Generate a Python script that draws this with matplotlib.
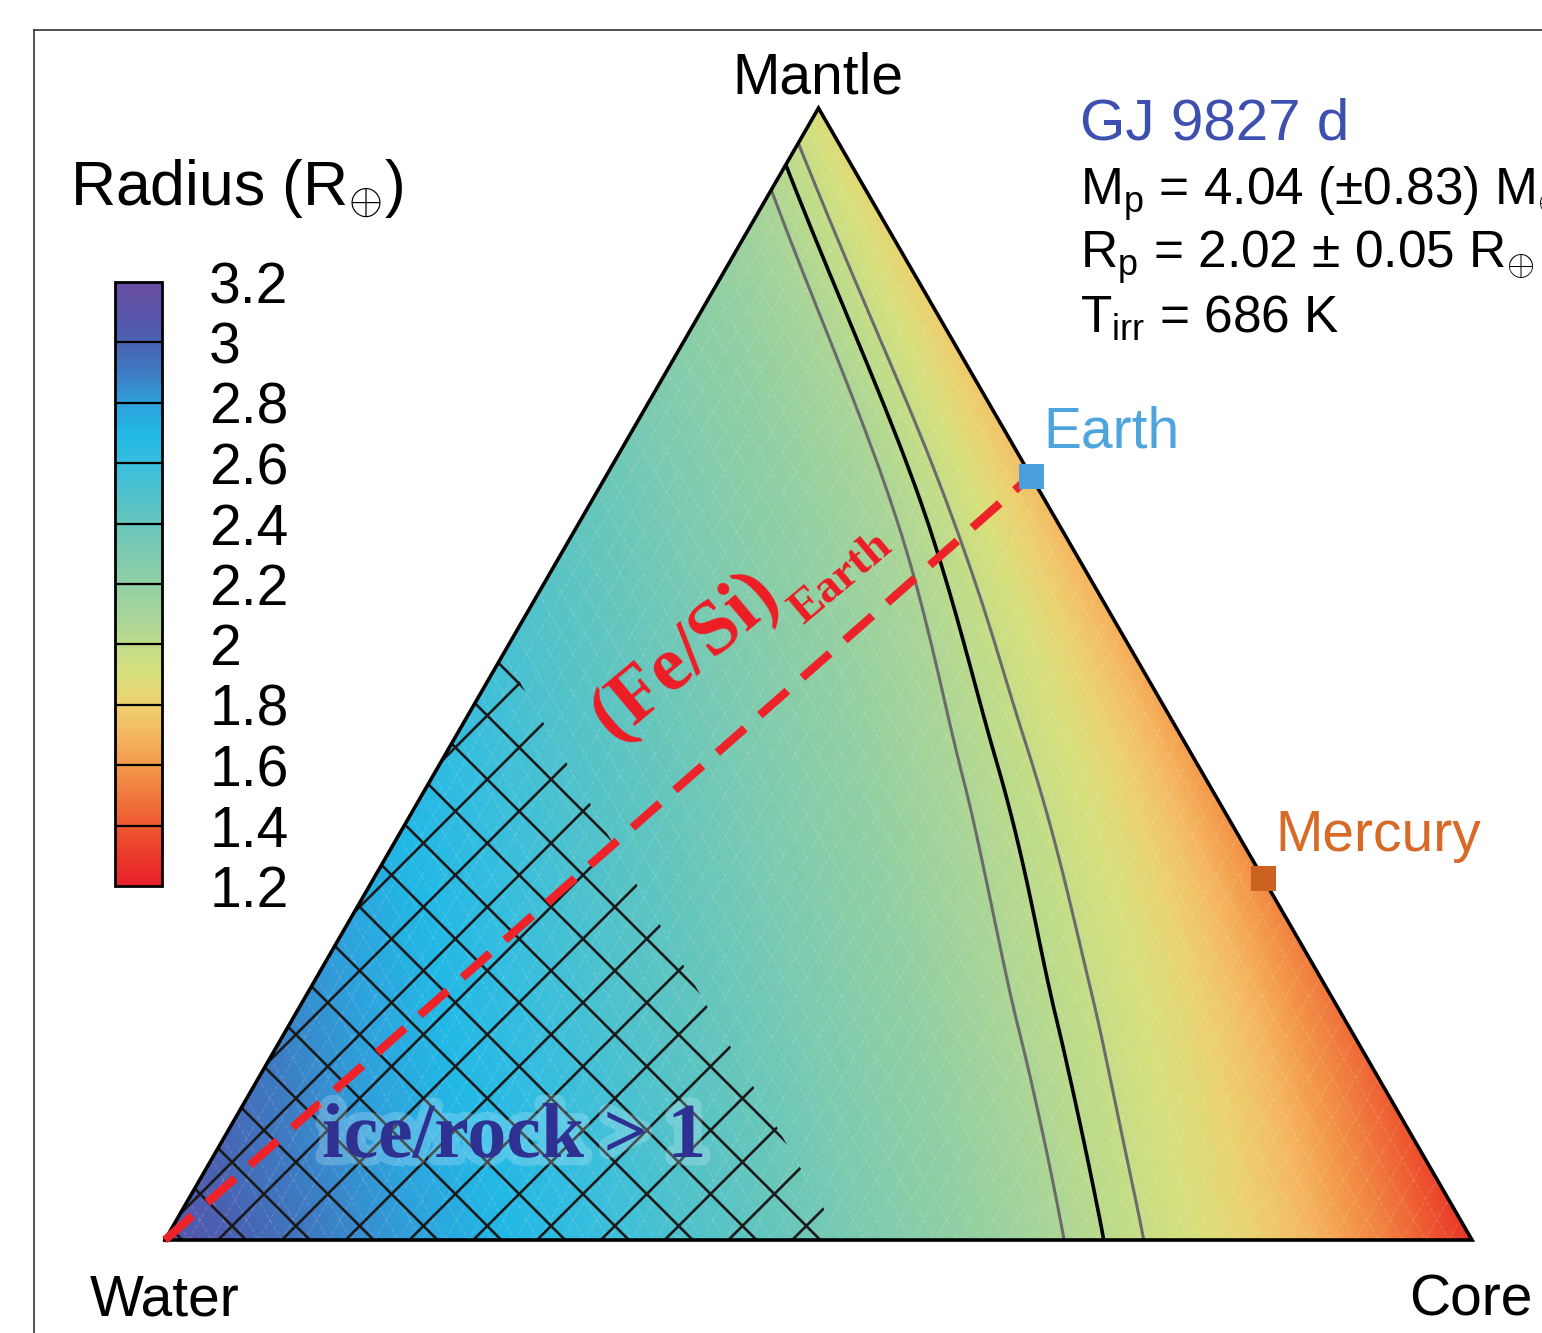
import numpy as np
import matplotlib
matplotlib.use('Agg')
import matplotlib.pyplot as plt
import matplotlib.tri as mtri
import matplotlib.patheffects as pe
from matplotlib.colors import LinearSegmentedColormap
from matplotlib.patches import Polygon
from matplotlib.collections import LineCollection

plt.rcParams['font.family'] = ['Liberation Sans', 'DejaVu Sans']
plt.rcParams['mathtext.fontset'] = 'custom'
plt.rcParams['mathtext.rm'] = 'Liberation Sans'
plt.rcParams['mathtext.it'] = 'Liberation Sans:italic'
plt.rcParams['mathtext.bf'] = 'Liberation Sans:bold'

# planet radius (R_earth) for 4.04 M_earth
# rows = water mass fraction, columns = core share of the rock (core / (core + mantle))
water_frac = [0.0, 0.05, 0.1, 0.2, 0.3, 0.45, 0.6, 0.8, 1.0]
core_share = [0.0, 0.25, 0.5, 0.75, 1.0]
radius = [
    [1.88, 1.76, 1.65, 1.51, 1.28],
    [2.02, 1.92, 1.81, 1.67, 1.47],
    [2.12, 2.04, 1.93, 1.81, 1.63],
    [2.24, 2.18, 2.09, 1.99, 1.88],
    [2.35, 2.29, 2.22, 2.14, 2.05],
    [2.50, 2.45, 2.39, 2.34, 2.28],
    [2.66, 2.62, 2.57, 2.54, 2.50],
    [2.86, 2.84, 2.81, 2.80, 2.78],
    [3.08, 3.08, 3.08, 3.08, 3.08],  # pure water corner
]

# observed radius 2.02 +/- 0.05
contour_levels = [1.97, 2.02, 2.07]
contour_colors = ['#6b6b6b', 'black', '#6b6b6b']

# reference planets
planet_names = ['Earth', 'Mercury']
planet_core = [0.325, 0.68]
planet_mantle = [0.675, 0.32]
planet_colors = ['#4aa0dc', '#cc6222']
label_colors = ['#4ea5de', '#d66a26']

ice_rock_limit = 0.5  # water fraction where ice/rock = 1

cbar_ticks = [1.2, 1.4, 1.6, 1.8, 2.0, 2.2, 2.4, 2.6, 2.8, 3.0, 3.2]
cbar_labels = ['1.2', '1.4', '1.6', '1.8', '2', '2.2', '2.4', '2.6', '2.8', '3', '3.2']
cmap_colors = ['#e8202a', '#ea3a2a', '#ee5a30', '#f07a3e', '#f3994a', '#f5b862',
               '#edd070', '#d8e07c', '#bfdc8a', '#a6d49a', '#90cfa4', '#7ecbb0',
               '#66c6bc', '#50c2cc', '#38bede', '#22b8e6', '#2fa0dc', '#3d7dc4',
               '#4a62b2', '#5a55aa', '#6a4fa2']
cmap = LinearSegmentedColormap.from_list('radius', cmap_colors)

SQ3 = np.sqrt(3) / 2


def tern_xy(core, mantle):
    core = np.asarray(core, float)
    mantle = np.asarray(mantle, float)
    return core + mantle / 2, mantle * SQ3


def grid_triangles(nrow, ncol):
    # split each grid cell along its (i, j) -> (i+1, j+1) diagonal
    idx = np.arange(nrow * ncol).reshape(nrow, ncol)
    a, b = idx[:-1, :-1].ravel(), idx[:-1, 1:].ravel()
    c, d = idx[1:, :-1].ravel(), idx[1:, 1:].ravel()
    return np.vstack([np.column_stack([a, b, d]), np.column_stack([a, d, c])])


# figure geometry (pixels)
FW, FH = 1542, 1333
S, X0, Y0 = 1307, 165, 1240


def fpos(px, py):
    return px / FW, 1 - py / FH


fig = plt.figure(figsize=(FW / 100, FH / 100), dpi=100)
ax = fig.add_axes([0, 0, 1, 1])
ax.set_xlim(-X0 / S, (FW - X0) / S)
ax.set_ylim(-(FH - Y0) / S, Y0 / S)
ax.axis('off')

# smooth the table with matplotlib's cubic interpolator (in water / core-share space)
Wg, Cg = np.meshgrid(water_frac, core_share, indexing='ij')
ptri = mtri.Triangulation(Cg.ravel(), Wg.ravel(),
                          grid_triangles(len(water_frac), len(core_share)))
pint = mtri.CubicTriInterpolator(ptri, np.array(radius).ravel(), kind='min_E')

nw, nc = 161, 101
CF, WF = np.meshgrid(np.linspace(0, 1, nc), np.linspace(0, 1, nw))
ZF = pint(np.clip(CF, 1e-9, 1 - 1e-9), np.clip(WF, 1e-9, 1 - 1e-9))
fx, fy = tern_xy((1 - WF) * CF, (1 - WF) * (1 - CF))
fx, fy, ZF = fx.ravel(), fy.ravel(), np.ma.filled(ZF, 3.08).ravel()

tris = grid_triangles(nw, nc)
area = np.abs((fx[tris[:, 1]] - fx[tris[:, 0]]) * (fy[tris[:, 2]] - fy[tris[:, 0]])
              - (fx[tris[:, 2]] - fx[tris[:, 0]]) * (fy[tris[:, 1]] - fy[tris[:, 0]]))
tris = tris[area > 1e-12]
tri_f = mtri.Triangulation(fx, fy, tris)

tpc = ax.tripcolor(tri_f, ZF, shading='gouraud', cmap=cmap, vmin=1.2, vmax=3.2, zorder=1)

# faint ternary grid
step = 1 / 56
segs = []
for v in np.arange(step, 1, step):
    xa, ya = tern_xy([v, v], [0, 1 - v])
    segs.append(list(zip(xa, ya)))
    xb, yb = tern_xy([0, 1 - v], [1 - v, 0])
    segs.append(list(zip(xb, yb)))
ax.add_collection(LineCollection(segs, colors='white', linewidths=0.8, alpha=0.16,
                                 linestyles=(0, (4, 2)), zorder=2))

# ice/rock > 1 hatch (hatch cells run a little past the boundary)
hatch_pad = 0.018
lim = ice_rock_limit - hatch_pad
hx, hy = tern_xy([0, 1 - lim, 0], [0, 0, 1 - lim])
hatch_poly = Polygon(list(zip(hx, hy)), closed=True, fill=False, lw=0)
ax.add_patch(hatch_poly)
sp = 63.8 / S
hsegs = []
for k in range(-5, 30):
    a0 = 0.04055 + sp * k
    hsegs.append([(-0.2, -0.2 - a0), (1.2, 1.2 - a0)])
    b0 = 0.1109 + sp * k
    hsegs.append([(-0.2, b0 + 0.2), (1.2, b0 - 1.2)])
hatch = LineCollection(hsegs, colors='#1a1a1a', linewidths=1.9, zorder=3)
ax.add_collection(hatch)
hatch.set_clip_path(hatch_poly)

# radius contours
ax.tricontour(tri_f, ZF, levels=contour_levels, colors=contour_colors,
              linewidths=[2.2, 2.6, 2.2], zorder=4)

# triangle outline
ox, oy = tern_xy([0, 1, 0, 0], [0, 0, 1, 0])
ax.plot(ox, oy, color='black', lw=2.6, zorder=5, solid_joinstyle='miter')

# (Fe/Si)_Earth line
px_, py_ = tern_xy(planet_core, planet_mantle)
ax.plot([0, px_[0]], [0, py_[0]], color='#ee2229', lw=6, dashes=(4.4, 2.4),
        dash_capstyle='butt', zorder=6)

for i in range(len(planet_names)):
    ax.plot(px_[i], py_[i], marker='s', ms=18, color=planet_colors[i], mew=0, zorder=8)

# labels
fig.text(*fpos(818, 93), 'Mantle', fontsize=41, ha='center', va='baseline')
fig.text(*fpos(165, 1316), 'Water', fontsize=41, ha='center', va='baseline')
fig.text(*fpos(1471, 1316), 'Core', fontsize=41, ha='center', va='baseline')

fig.text(*fpos(1043, 447), planet_names[0], fontsize=41, color=label_colors[0], va='baseline')
fig.text(*fpos(1275, 851), planet_names[1], fontsize=41, color=label_colors[1], va='baseline')

fig.text(*fpos(1080, 140), 'GJ 9827 d', fontsize=42, color='#3d50b0', va='baseline')
fig.text(*fpos(1080, 205), r'M$_\mathrm{p}$ = 4.04 (±0.83) M$_{\oplus}$', fontsize=37, va='baseline')
fig.text(*fpos(1080, 268), r'R$_\mathrm{p}$ = 2.02 ± 0.05 R$_{\oplus}$', fontsize=37, va='baseline')
fig.text(*fpos(1080, 333), r'T$_\mathrm{irr}$ = 686 K', fontsize=37, va='baseline')

fig.text(*fpos(614, 741), '(Fe/Si)', fontsize=56, family='Liberation Serif', weight='bold',
         color='#ee1c25', rotation=40, rotation_mode='anchor', ha='left', va='baseline', zorder=9)
fig.text(*fpos(803, 625), 'Earth', fontsize=34, family='Liberation Serif', weight='bold',
         color='#ee1c25', rotation=40, rotation_mode='anchor', ha='left', va='baseline', zorder=9)

fig.text(*fpos(322, 1157), 'ice/rock > 1', fontsize=56, family='Liberation Serif',
         weight='bold', color='#2e3192', va='baseline', zorder=9,
         path_effects=[pe.withStroke(linewidth=12, foreground='#d4eef9', alpha=0.25)])

# colour bar
fig.text(*fpos(70, 205), r'Radius (R$_{\oplus}$)', fontsize=45, va='baseline')
cax = fig.add_axes([115 / FW, 1 - 886 / FH, 47 / FW, 604 / FH])
cb = fig.colorbar(tpc, cax=cax, ticks=cbar_ticks)
cb.ax.set_yticklabels(cbar_labels)
cb.ax.tick_params(length=0, pad=34, labelsize=41)
cb.outline.set_linewidth(2)
for t in cbar_ticks[1:-1]:
    cax.axhline(t, color='black', lw=1.6)

# outer frame (left and top edges visible)
fig.add_artist(plt.Line2D([34 / FW, 34 / FW], [0, 1 - 30 / FH], color='#333333', lw=1.2))
fig.add_artist(plt.Line2D([34 / FW, 1], [1 - 30 / FH, 1 - 30 / FH], color='#333333', lw=1.2))

fig.savefig('out.png', dpi=100)
